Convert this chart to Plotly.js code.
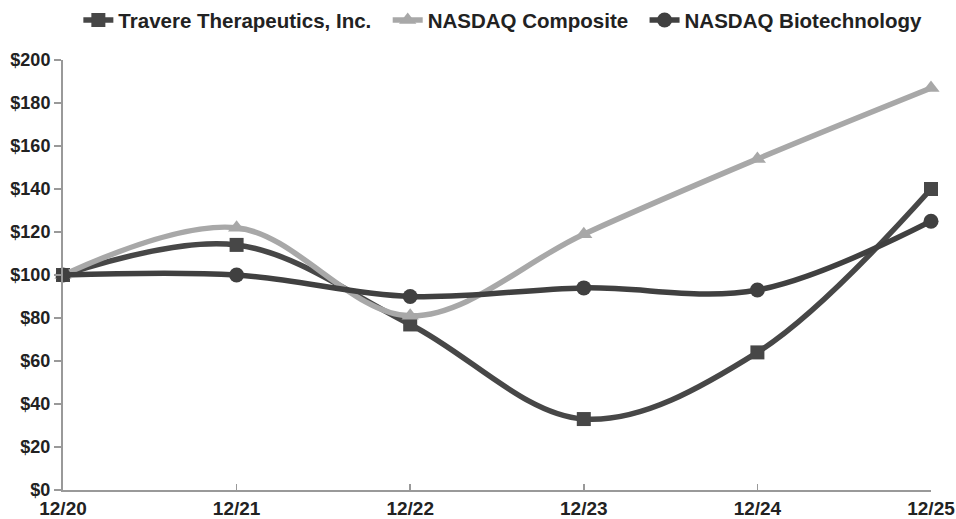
<!DOCTYPE html>
<html>
<head>
<meta charset="utf-8">
<script src="https://cdn.plot.ly/plotly-3.0.1.min.js"></script>
<style>html,body{margin:0;padding:0;background:#fff;}#chart{width:956px;height:519px;}</style>
</head>
<body>
<div id="chart"></div>
<script>
const periods = ["12/20", "12/21", "12/22", "12/23", "12/24", "12/25"];
const travere = [100, 114, 77, 33, 64, 140];
const nasdaqComposite = [100, 122, 81, 119, 154, 187];
const nasdaqBiotech = [100, 100, 90, 94, 93, 125];
const seriesNames = ["Travere Therapeutics, Inc.", "NASDAQ Composite", "NASDAQ Biotechnology"];
const yTicks = [0, 20, 40, 60, 80, 100, 120, 140, 160, 180, 200];
const yTickLabels = yTicks.map(v => "$" + v);

const pad = "\u00a0\u00a0";
const lineW = 5.5;
const FF = "Liberation Sans, Arial, sans-serif";
const traces = [
  {name: seriesNames[0] + pad, x: periods, y: travere, type: "scatter", mode: "lines+markers",
   cliponaxis: false,
   line: {color: "#474747", width: lineW, shape: "spline", smoothing: 1},
   marker: {symbol: "square", size: 14, color: "#474747"}},
  {name: seriesNames[1] + pad, x: periods, y: nasdaqComposite, type: "scatter", mode: "lines+markers",
   cliponaxis: false,
   line: {color: "#a8a8a8", width: lineW, shape: "spline", smoothing: 1},
   marker: {symbol: "triangle-up", size: 15, color: "#a8a8a8"}},
  {name: seriesNames[2], x: periods, y: nasdaqBiotech, type: "scatter", mode: "lines+markers",
   cliponaxis: false,
   line: {color: "#404040", width: lineW, shape: "spline", smoothing: 1},
   marker: {symbol: "circle", size: 15, color: "#404040"}}
];

const layout = {
  width: 956, height: 519,
  margin: {l: 63, r: 25, t: 60, b: 29, autoexpand: false},
  paper_bgcolor: "#fff", plot_bgcolor: "#fff",
  font: {family: FF, color: "#222"},
  showlegend: true,
  legend: {orientation: "h", xref: "container", x: 0.526, xanchor: "center",
           yref: "container", y: 0.961, yanchor: "middle",
           font: {size: 20.5, family: FF, color: "#222", weight: "bold"},
           tracegroupgap: 0},
  xaxis: {type: "category", range: [0, 5], showgrid: false, zeroline: false,
          showline: true, linecolor: "#999", linewidth: 2,
          ticks: "inside", ticklen: 6, tickcolor: "#999", tickwidth: 1.5,
          tickfont: {size: 19, family: FF, color: "#222", weight: "bold"}},
  yaxis: {range: [0, 200], tickvals: yTicks, ticktext: yTickLabels, showgrid: false, zeroline: false,
          showline: true, linecolor: "#999", linewidth: 2,
          ticks: "outside", ticklen: 7, tickcolor: "#999", tickwidth: 1.5,
          tickfont: {size: 18, family: FF, color: "#222", weight: "bold"}}
};
Plotly.newPlot("chart", traces, layout, {displayModeBar: false, staticPlot: true});
</script>
</body>
</html>
